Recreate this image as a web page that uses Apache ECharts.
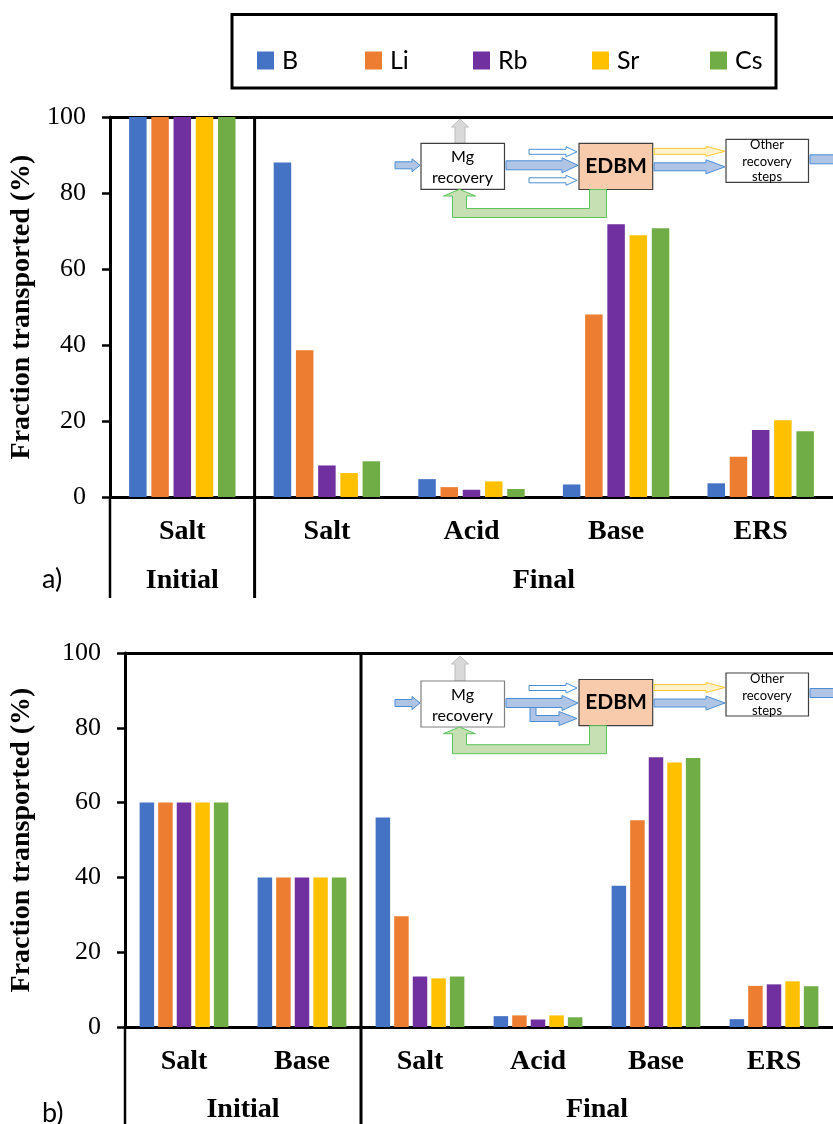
<!DOCTYPE html>
<html>
<head>
<meta charset="utf-8">
<script src="https://cdn.jsdelivr.net/npm/echarts@6/dist/echarts.min.js"></script>
<style>
  html, body { margin: 0; padding: 0; background: #fff; }
  #chart { width: 833px; height: 1124px; }
</style>
</head>
<body>
<div id="chart"></div>
<script>
// ---------- data ----------
const elements = ['B', 'Li', 'Rb', 'Sr', 'Cs'];

// panel a): one initial stream, four final streams
const catsA = ['Salt', 'Salt', 'Acid', 'Base', 'ERS'];
const groupNamesA = ['Initial', 'Final'];
const groupSpansA = [1, 4];
const aB  = [100, 88.0, 4.7, 3.3, 3.6];
const aLi = [100, 38.6, 2.6, 48.0, 10.6];
const aRb = [100, 8.3, 1.9, 71.8, 17.6];
const aSr = [100, 6.3, 4.1, 68.9, 20.2];
const aCs = [100, 9.4, 2.1, 70.7, 17.3];

// panel b): two initial streams, four final streams
const catsB = ['Salt', 'Base', 'Salt', 'Acid', 'Base', 'ERS'];
const groupNamesB = ['Initial', 'Final'];
const groupSpansB = [2, 4];
const bB  = [60, 40, 56.0, 2.9, 37.8, 2.1];
const bLi = [60, 40, 29.6, 3.1, 55.3, 11.0];
const bRb = [60, 40, 13.5, 2.0, 72.1, 11.4];
const bSr = [60, 40, 13.0, 3.1, 70.7, 12.2];
const bCs = [60, 40, 13.5, 2.6, 71.9, 10.9];

const yMin = 0, yMax = 100, yStep = 20;
const yTitle = 'Fraction transported (%)';

// ---------- styles ----------
const COLORS = ['#4472C4', '#ED7D31', '#7030A0', '#FFC000', '#70AD47'];
const SERIF = '"Liberation Serif", "Times New Roman", serif';
const SANS = 'Lato, "Open Sans", sans-serif';

const seriesA = [aB, aLi, aRb, aSr, aCs];
const seriesB = [bB, bLi, bRb, bSr, bCs];

function groupCenters(spans) {
  const out = []; let acc = 0;
  spans.forEach(s => { out.push(acc + s / 2); acc += s; });
  return out;
}
function groupBounds(spans) {
  const out = [0]; let acc = 0;
  spans.forEach(s => { acc += s; out.push(acc); });
  return out;
}

const panels = [
  { cats: catsA, names: groupNamesA, spans: groupSpansA, data: seriesA,
    left: 110, top: 117, width: 733, height: 380, tableBottom: 598,
    barWidth: 17.5, barGap: '27%', nameGap: 74 },
  { cats: catsB, names: groupNamesB, spans: groupSpansB, data: seriesB,
    left: 125, top: 653, width: 720, height: 374, tableBottom: 1130,
    barWidth: 14.5, barGap: '28%', nameGap: 89 }
];

const grid = [], xAxis = [], yAxis = [], series = [];
panels.forEach((p, i) => {
  const gBars = grid.length;
  grid.push({ left: p.left, top: p.top, width: p.width, height: p.height });
  const gGroups = grid.length;
  grid.push({ left: p.left, top: p.top, width: p.width, height: p.height });

  p.xCat = xAxis.length;
  xAxis.push({
    gridIndex: gBars, type: 'category', data: p.cats, position: 'bottom',
    axisLine: { lineStyle: { color: '#000', width: 3 } },
    axisTick: { show: false },
    axisLabel: { interval: 0, fontFamily: SERIF, fontWeight: 'bold', fontSize: 28,
                 lineHeight: 28, color: '#000', margin: 21 }
  });
  xAxis.push({
    gridIndex: gBars, type: 'category', data: p.cats, position: 'top',
    axisLine: { lineStyle: { color: '#000', width: 3 } },
    axisTick: { show: false }, axisLabel: { show: false }
  });
  const centers = groupCenters(p.spans);
  p.xGroup = xAxis.length;
  xAxis.push({
    gridIndex: gGroups, type: 'value', min: 0, max: p.cats.length, position: 'bottom',
    axisLine: { show: false }, axisTick: { show: false }, splitLine: { show: false },
    axisLabel: {
      customValues: centers,
      formatter: v => {
        const k = centers.findIndex(c => Math.abs(c - v) < 1e-6);
        return k >= 0 ? p.names[k] : '';
      },
      fontFamily: SERIF, fontWeight: 'bold', fontSize: 28, lineHeight: 28,
      color: '#000', margin: 70
    }
  });

  p.yIdx = yAxis.length;
  yAxis.push({
    gridIndex: gBars, type: 'value', min: yMin, max: yMax, interval: yStep,
    name: yTitle, nameLocation: 'middle', nameGap: p.nameGap,
    nameTextStyle: { fontFamily: SERIF, fontWeight: 'bold', fontSize: 28, color: '#000' },
    axisLine: { show: true, lineStyle: { color: '#000', width: 3 } },
    axisTick: { show: true, length: 8, lineStyle: { color: '#000', width: 2.5 } },
    axisLabel: { fontFamily: SERIF, fontSize: 26, color: '#000', margin: 24 },
    splitLine: { show: false }
  });
  yAxis.push({
    gridIndex: gGroups, type: 'value', min: yMin, max: yMax, show: false
  });

  p.data.forEach((vals, k) => {
    series.push({
      type: 'bar', name: elements[k], xAxisIndex: p.xCat, yAxisIndex: p.yIdx,
      data: vals, barWidth: p.barWidth, barGap: p.barGap,
      itemStyle: { color: COLORS[k] },
      emphasis: { disabled: true }
    });
  });
});

// legend: one entry per element inside a framed box
const legendLefts = [252, 360, 468, 587, 705];
const legend = elements.map((el, k) => ({
  data: [el], left: legendLefts[k], top: 43, orient: 'horizontal',
  icon: 'rect', itemWidth: 17, itemHeight: 18, selectedMode: false,
  textStyle: { fontFamily: SANS, fontSize: 25, color: '#000', padding: [0, 0, 0, 3] }
}));

// ---------- process-flow inset ----------
function rArrow(x1, x2, yc, s, h, hl) {
  return [[x1, yc - s / 2], [x2 - hl, yc - s / 2], [x2 - hl, yc - h / 2], [x2, yc],
          [x2 - hl, yc + h / 2], [x2 - hl, yc + s / 2], [x1, yc + s / 2]];
}
function uArrow(xc, yBase, yTip, s, h, hl) {
  return [[xc - s / 2, yBase], [xc - s / 2, yTip + hl], [xc - h / 2, yTip + hl], [xc, yTip],
          [xc + h / 2, yTip + hl], [xc + s / 2, yTip + hl], [xc + s / 2, yBase]];
}
function poly(points, fill, stroke, lw) {
  return { type: 'polygon', z: 50, shape: { points }, style: { fill, stroke, lineWidth: lw || 1 } };
}
function box(x, y, w, h, fill, stroke, lw) {
  return { type: 'rect', z: 50, shape: { x, y, width: w, height: h },
           style: { fill, stroke, lineWidth: lw || 1.2 } };
}
function label(x, y, str, size, weight) {
  return { type: 'text', z: 52, x, y,
           style: { text: str, fontFamily: SANS, fontSize: size, fontWeight: weight || 'normal',
                    fill: '#000', align: 'center', verticalAlign: 'middle' } };
}

const BLUE_F = '#B0C4E6', BLUE_S = '#4A8FD6';
const GRAY_F = '#D9D9D9', GRAY_S = '#BDBDBD';
const YEL_F = '#FFF2CC', YEL_S = '#FFC832';
const GRN_F = '#C6E0B4', GRN_S = '#5CC45C';

function inset(o) {
  const els = [];
  // feed into Mg recovery
  els.push(poly(rArrow(395, 420, o.mgY + 22, 7, 13, 8), BLUE_F, BLUE_S));
  // Mg product leaving upwards
  els.push(poly(uArrow(460, o.mgY, o.grayTip, 10, 17, 8), GRAY_F, GRAY_S));
  // Mg recovery box
  els.push(box(421, o.mgY, 83.5, 46, '#fff', o.mgStroke));
  els.push(label(462.5, o.mgY + 13.5, 'Mg', 16));
  els.push(label(462.5, o.mgY + 34.5, 'recovery', 16));
  // streams into EDBM
  els.push(poly(rArrow(529, 577, o.edY + 8.5, 5, 10, 11), '#fff', BLUE_S));
  els.push(poly(rArrow(506, 578, o.mgY + 22, 9, 15, 16), BLUE_F, BLUE_S));
  if (o.branch) {
    const y0 = o.mgY + 26.5, yb = o.mgY + 37.5;
    els.push(poly([[530, y0], [536, y0], [536, yb - 3], [559, yb - 3], [559, yb - 7],
                   [577, yb], [559, yb + 7], [559, yb + 3], [530, yb + 3]], BLUE_F, BLUE_S));
  } else {
    els.push(poly(rArrow(529, 577, o.edY + 37, 5, 10, 11), '#fff', BLUE_S));
  }
  // EDBM unit
  els.push(box(579, o.edY, 73.7, 46.2, '#F8CBAD', '#404040'));
  els.push(label(616, o.edY + 23, 'EDBM', 21, 'bold'));
  // recycle back to Mg recovery
  const eb = o.edY + 46.2, ob = eb + 28, ib = eb + 19;
  const tip = o.mgY + 46, hb = tip + 6.7;
  els.push(poly([[606.5, eb], [606.5, ob], [452.5, ob], [452.5, hb], [443.5, hb], [459.5, tip],
                 [475.5, hb], [466.5, hb], [466.5, ib], [589.5, ib], [589.5, eb]], GRN_F, GRN_S));
  // products to further recovery
  els.push(poly(rArrow(654, 725, o.edY + 8, 6, 10, 19), YEL_F, YEL_S));
  els.push(poly(rArrow(654, 725, o.edY + 23.5, 8, 14, 19), BLUE_F, BLUE_S));
  els.push(box(726, o.otY, 82.5, 43, '#fff', '#404040'));
  els.push(label(767, o.otY + 6, 'Other', 13));
  els.push(label(767, o.otY + 22.5, 'recovery', 13));
  els.push(label(767, o.otY + 38, 'steps', 13));
  els.push(box(810, o.otY + 15.5, 35, 9, BLUE_F, BLUE_S, 1));
  return els;
}

const staticGraphic = [
  // legend frame
  { type: 'rect', z: 40, shape: { x: 232, y: 14.5, width: 544, height: 73.5 },
    style: { fill: 'none', stroke: '#000', lineWidth: 3 } },
  { type: 'text', z: 40, x: 42, y: 579,
    style: { text: 'a)', fontFamily: SANS, fontSize: 27, fill: '#000', verticalAlign: 'middle' } },
  { type: 'text', z: 40, x: 42, y: 1113,
    style: { text: 'b)', fontFamily: SANS, fontSize: 27, fill: '#000', verticalAlign: 'middle' } },
  ...inset({ mgY: 143.3, edY: 143.3, otY: 139.3, grayTip: 119, mgStroke: '#404040', branch: false }),
  ...inset({ mgY: 681, edY: 679.5, otY: 673, grayTip: 656, mgStroke: '#808080', branch: true })
];

const chart = echarts.init(document.getElementById('chart'), null, { renderer: 'canvas' });
chart.setOption({
  animation: false,
  backgroundColor: '#fff',
  legend, grid, xAxis, yAxis, series,
  graphic: staticGraphic
});

// table rules: y-axis continuation and group separators, placed from the axis scales
const rules = [];
panels.forEach(p => {
  const yTop = chart.convertToPixel({ yAxisIndex: p.yIdx }, yMax);
  const yBase = chart.convertToPixel({ yAxisIndex: p.yIdx }, yMin);
  groupBounds(p.spans).forEach((b, k, arr) => {
    if (k === arr.length - 1) return; // right edge lies outside the page
    const x = chart.convertToPixel({ xAxisIndex: p.xGroup }, b);
    const y1 = k === 0 ? yBase : yTop;
    rules.push({ type: 'line', z: 30, shape: { x1: x, y1: y1, x2: x, y2: p.tableBottom },
                 style: { stroke: '#000', lineWidth: k === 0 ? 2.5 : 3 } });
  });
});
chart.setOption({ graphic: staticGraphic.concat(rules) });
</script>
</body>
</html>
